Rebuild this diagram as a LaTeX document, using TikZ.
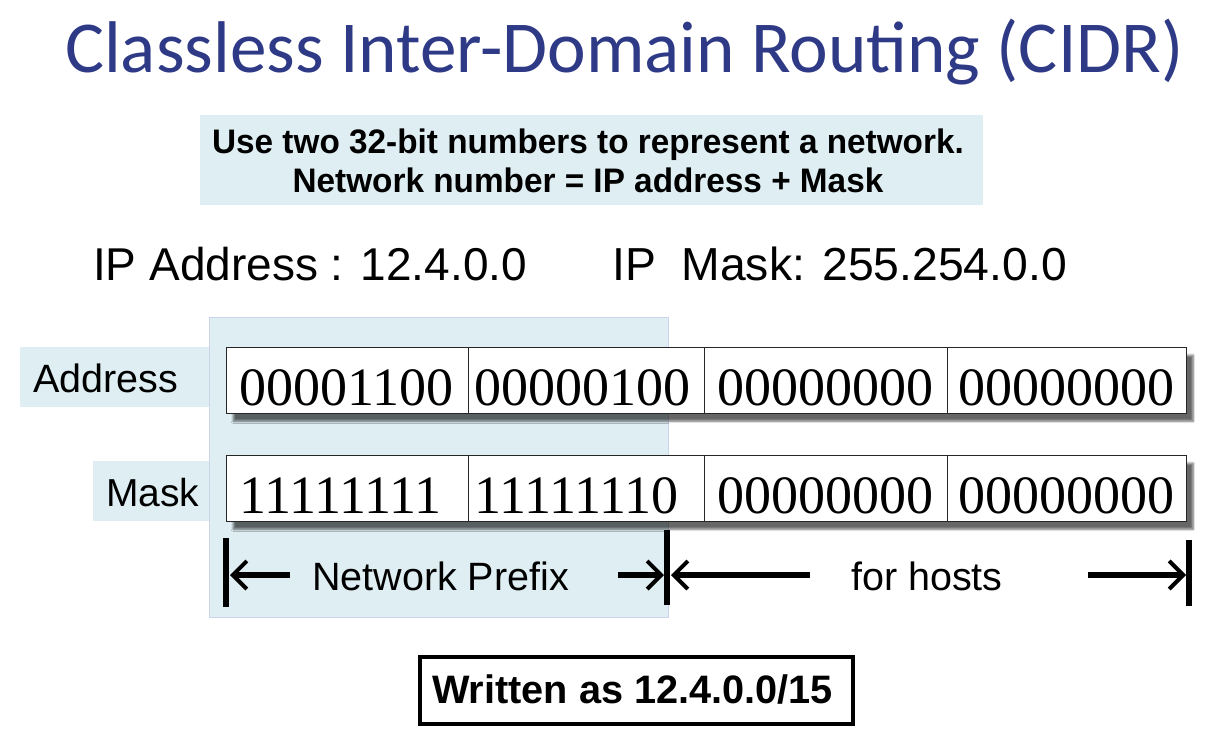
\documentclass[tikz,border=0pt]{standalone}
\usepackage{fontspec}
\setmainfont{Liberation Sans}
\newfontfamily\serifdigits{Liberation Serif}
\newfontfamily\titlefont{Carlito}
\usetikzlibrary{arrows.meta,shadows.blur}
\definecolor{titleblue}{HTML}{2E3A86}
\definecolor{paleblue}{HTML}{DEEEF3}
\definecolor{edgeblue}{HTML}{CDD3EA}
\tikzset{
  lbl/.style={fill=paleblue, draw=none, inner sep=0pt},
  cell/.style={draw=black!85, line width=1.4pt, fill=white, minimum height=66pt, inner sep=0pt,
     font=\serifdigits\fontsize{54}{54}\selectfont, text depth=0pt},
  celltext/.style={inner sep=0pt, font=\serifdigits\fontsize{54}{54}\selectfont, anchor=base},
  rowshadow/.style={fill=white, draw=none, blur shadow={shadow xshift=7pt, shadow yshift=-8pt, shadow blur steps=8, shadow opacity=60}},
  arr/.style={line width=6pt, -{Straight Barb[length=14pt,width=28pt,line width=4pt]}},
  bar/.style={line width=5.5pt},
  plain/.style={anchor=base west, inner sep=0pt},
}
\begin{document}
\begin{tikzpicture}[x=1pt,y=-1pt]
\useasboundingbox (0,0) rectangle (1220,748);
% title
\node[plain, text=titleblue, font=\titlefont\fontsize{73.2}{73.2}\selectfont] (title) at (65,72) {Classless Inter-Domain Routing (CIDR)};
% top info box
\node[lbl, minimum width=783pt, minimum height=90pt, anchor=north west] (info) at (200,115) {};
\node[anchor=base, inner sep=0pt, font=\bfseries\fontsize{34}{34}\selectfont, xscale=0.98] (l1) at (588,153) {Use two 32-bit numbers to represent a network.};
\node[anchor=base, inner sep=0pt, font=\bfseries\fontsize{34}{34}\selectfont, xscale=0.98] (l2) at (588,192) {Network number = IP address + Mask};
% IP lines
\node[plain, font=\fontsize{46}{46}\selectfont] (ipaddr) at (93,280) {IP Address : 12.4.0.0};
\node[plain, font=\fontsize{46.3}{46}\selectfont] (ipmask) at (612,280) {IP\ \ Mask: 255.254.0.0};
% network prefix background
\node[fill=paleblue, draw=edgeblue, line width=1pt, minimum width=459pt, minimum height=300pt, anchor=north west, inner sep=0pt] (prefix) at (209,317) {};
% labels
\node[lbl, minimum width=189pt, minimum height=60pt, anchor=north west] (addrbox) at (20,347) {};
\node[plain, font=\fontsize{39.5}{39}\selectfont] (addrtxt) at (33,392) {Address};
\node[lbl, minimum width=116pt, minimum height=60pt, anchor=north west] (maskbox) at (93,461) {};
\node[plain, font=\fontsize{39}{39}\selectfont] (masktxt) at (106,506) {Mask};
% row shadows
\node[rowshadow, minimum width=960pt, minimum height=66pt, anchor=north west, inner sep=0pt] (arow) at (226,347) {};
\node[rowshadow, minimum width=960pt, minimum height=66pt, anchor=north west, inner sep=0pt] (mrow) at (226,455) {};
% address cells
\node[cell, minimum width=242pt, anchor=north west] (a1) at (226,347) {};
\node[cell, minimum width=236pt, anchor=north west] (a2) at (468,347) {};
\node[cell, minimum width=243pt, anchor=north west] (a3) at (704,347) {};
\node[cell, minimum width=239pt, anchor=north west] (a4) at (947,347) {};
\node[celltext] (a1t) at (346,405) {00001100};
\node[celltext] (a2t) at (582,405) {00000100};
\node[celltext] (a3t) at (825,405) {00000000};
\node[celltext] (a4t) at (1066,405) {00000000};
% mask cells
\node[cell, minimum width=242pt, anchor=north west] (m1) at (226,455) {};
\node[cell, minimum width=236pt, anchor=north west] (m2) at (468,455) {};
\node[cell, minimum width=243pt, anchor=north west] (m3) at (704,455) {};
\node[cell, minimum width=239pt, anchor=north west] (m4) at (947,455) {};
\node[celltext] (m1t) at (340,513) {11111111};
\node[celltext] (m2t) at (576,513) {11111110};
\node[celltext] (m3t) at (825,513) {00000000};
\node[celltext] (m4t) at (1066,513) {00000000};
% bars
\coordinate (b1t) at (226,538); \coordinate (b1b) at (226,607);
\coordinate (b2t) at (667,530); \coordinate (b2b) at (667,605);
\coordinate (b3t) at (1189,540); \coordinate (b3b) at (1189,606);
\draw[bar] (b1t) -- (b1b);
\draw[bar] (b2t) -- (b2b);
\draw[bar] (b3t) -- (b3b);
% arrow labels
\node[plain, font=\fontsize{39.5}{39}\selectfont] (np) at (312,590) {Network Prefix};
\node[plain, font=\fontsize{39.5}{39}\selectfont] (fh) at (851,590) {for hosts};
% arrows
\coordinate (p1s) at (290,575); \coordinate (p1e) at (230,575);
\coordinate (p2s) at (618,575); \coordinate (p2e) at (664,575);
\coordinate (h1s) at (810,575); \coordinate (h1e) at (671,575);
\coordinate (h2s) at (1088,575); \coordinate (h2e) at (1186,575);
\draw[arr] (p1s) -- (p1e);
\draw[arr] (p2s) -- (p2e);
\draw[arr] (h1s) -- (h1e);
\draw[arr] (h2s) -- (h2e);
% written as box
\node[draw=black, line width=3.5pt, minimum width=433pt, minimum height=67pt, anchor=north west, inner sep=0pt] (wbox) at (418,655) {};
\node[plain, font=\bfseries\fontsize{39.7}{39}\selectfont] (wtxt) at (432,703) {Written as 12.4.0.0/15};
\end{tikzpicture}
\end{document}
